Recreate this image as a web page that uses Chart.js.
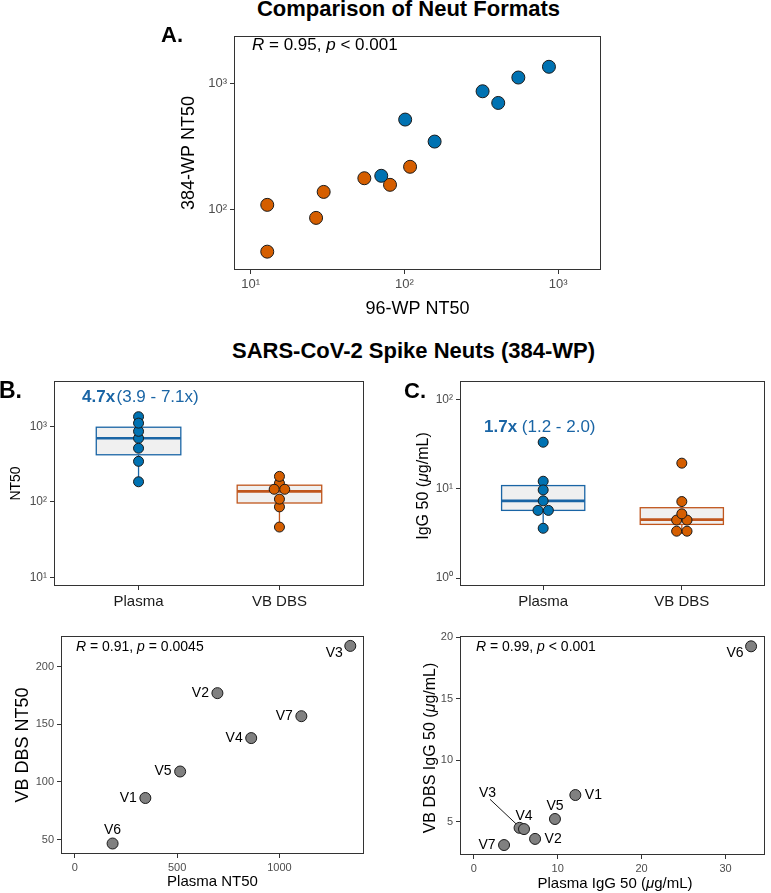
<!DOCTYPE html>
<html><head><meta charset="utf-8">
<script src="https://cdn.jsdelivr.net/npm/chart.js@4/dist/chart.umd.min.js"></script>
<style>
body{margin:0;width:771px;height:893px;background:#fff;position:relative;overflow:hidden;font-family:"Liberation Sans",Arial,sans-serif;color:#000;}
canvas{position:absolute;}
.t{position:absolute;white-space:nowrap;line-height:1;}
.rot{position:absolute;white-space:nowrap;line-height:1;transform:translate(-50%,-50%) rotate(-90deg);}
.ctr{position:absolute;white-space:nowrap;line-height:1;transform:translate(-50%,-50%);}
</style></head><body>
<canvas id="cA" width="480" height="300" style="left:140px;top:25px"></canvas>
<canvas id="cB" width="375" height="240" style="left:0px;top:370px"></canvas>
<canvas id="cC" width="391" height="240" style="left:380px;top:370px"></canvas>
<canvas id="cD" width="375" height="268" style="left:0px;top:625px"></canvas>
<canvas id="cE" width="391" height="268" style="left:380px;top:625px"></canvas>

<div class="t" style="left:408.5px;top:-1.6px;transform:translateX(-50%);font-weight:bold;font-size:22px">Comparison of Neut Formats</div>
<div class="t" style="left:413.5px;top:340.4px;transform:translateX(-50%);font-weight:bold;font-size:22px">SARS-CoV-2 Spike Neuts (384-WP)</div>
<div class="t" style="left:161px;top:23.7px;font-weight:bold;font-size:22px">A.</div>
<div class="t" style="left:-1px;top:378.8px;font-weight:bold;font-size:23px">B.</div>
<div class="t" style="left:404px;top:380px;font-weight:bold;font-size:22px">C.</div>

<div class="t" style="left:252px;top:35.6px;font-size:17px"><i>R</i> = 0.95, <i>p</i> &lt; 0.001</div>
<div class="t" style="left:82px;top:387.6px;font-size:17px;color:#1a65a5"><b>4.7x</b>&#8202;(3.9 - 7.1x)</div>
<div class="t" style="left:484px;top:417.6px;font-size:17px;color:#1a65a5"><b>1.7x</b> (1.2 - 2.0)</div>
<div class="t" style="left:76px;top:639px;font-size:14px"><i>R</i> = 0.91, <i>p</i> = 0.0045</div>
<div class="t" style="left:476px;top:639px;font-size:14px"><i>R</i> = 0.99, <i>p</i> &lt; 0.001</div>

<div class="rot" style="left:423px;top:486px;font-size:16px">IgG 50 (<i>μ</i>g/mL)</div>
<div class="rot" style="left:429.5px;top:748px;font-size:16px">VB DBS IgG 50 (<i>μ</i>g/mL)</div>
<div class="ctr" style="left:615px;top:882px;font-size:15px">Plasma IgG 50 (<i>μ</i>g/mL)</div>

<script>
// ---------------- data ----------------
const samples = ['V1','V2','V3','V4','V5','V6','V7'];
const groups = ['Plasma','VB DBS'];
const plasmaNT50_96  = [157, 407, 870, 322, 101, 70.6, 550];
const plasmaNT50_384 = [345, 697, 1346, 862, 515, 185, 1107];
const dbsNT50_96     = [26.6, 54.8, 108.7, 29.8, 12.8, 12.8, 80.5];
const dbsNT50_384    = [86, 177, 218, 138, 109, 46.5, 157];
const plasmaIgG50    = [12.1, 7.3, 5.45, 5.98, 9.67, 33.05, 3.6];
const dbsIgG50       = [7.17, 3.6, 4.5, 4.4, 5.22, 19.27, 3.1];
const logTicksA = [10, 100, 1000];
const logTicksB = [10, 100, 1000];
const logTicksC = [1, 10, 100];
const ticksDx = [0, 500, 1000];
const ticksDy = [50, 100, 150, 200];
const ticksEx = [0, 10, 20, 30];
const ticksEy = [5, 10, 15, 20];
const labelDirD = ['left','left','belowLeft','left','left','above','left'];
const labelDirE = ['right','right','leader','above','above','belowLeft','left'];

// ---------------- style ----------------
const BLUE = '#0072B2', ORANGE = '#D55E00', GRAY = '#808080', EDGE = '#1a1a1a';
const BLUE_BOX = '#1a65a5', ORANGE_BOX = '#c0561d';
const TICK_COL = '#4d4d4d';
Chart.defaults.font.family = '"Liberation Sans", Arial, sans-serif';
Chart.defaults.color = TICK_COL;

const sup = {0:'\u2070',1:'\u00B9',2:'\u00B2',3:'\u00B3'};
const powLabel = v => '10' + sup[Math.round(Math.log10(v))];
const plainLabel = v => String(v);

// ---------------- helpers ----------------
function logQuantile(vals, p){
  const l = vals.map(Math.log10).sort((a,b)=>a-b);
  const h = (l.length-1)*p, lo = Math.floor(h);
  const nx = l[Math.min(lo+1, l.length-1)];
  return Math.pow(10, l[lo] + (h-lo)*(nx - l[lo]));
}
function boxStats(vals, x, color){
  const q1 = logQuantile(vals,.25), med = logQuantile(vals,.5), q3 = logQuantile(vals,.75);
  const iqr = Math.log10(q3) - Math.log10(q1);
  const lf = Math.log10(q1) - 1.5*iqr, uf = Math.log10(q3) + 1.5*iqr;
  const inside = vals.filter(v => Math.log10(v) >= lf && Math.log10(v) <= uf);
  return {x, q1, med, q3, lo: Math.min(...inside), hi: Math.max(...inside), color};
}
// dot-density binning (like geom_dotplot, binaxis y, stackdir center) on log scale
function dotplot(vals, cx, binwidth, step){
  const idx = vals.map((v,i)=>i).sort((a,b)=>vals[a]-vals[b]);
  const out = new Array(vals.length);
  let i = 0;
  while (i < idx.length){
    const start = Math.log10(vals[idx[i]]);
    const bin = [idx[i]]; let j = i+1;
    while (j < idx.length && Math.log10(vals[idx[j]]) - start < binwidth){ bin.push(idx[j]); j++; }
    const center = (start + Math.log10(vals[bin[bin.length-1]]))/2;
    bin.forEach((k,n)=>{ out[k] = {x: cx + (n - (bin.length-1)/2)*step, y: Math.pow(10, center)}; });
    i = j;
  }
  return out;
}
const fixedTicks = vals => (s => { s.ticks = vals.map(v=>({value:v})); });
const fitW = w => (s => { s.width = w; });
const fitH = h => (s => { s.height = h; });
const tickGrid = {display:true, drawOnChartArea:false, drawTicks:true, tickLength:4, color:'#333', lineWidth:1};

const framePlugin = {
  id:'frame',
  afterDatasetsDraw(chart){
    const {ctx, chartArea:a} = chart;
    ctx.save(); ctx.strokeStyle = '#333'; ctx.lineWidth = 1;
    ctx.strokeRect(Math.round(a.left)+0.5, Math.round(a.top)+0.5, Math.round(a.right-a.left)-1, Math.round(a.bottom-a.top)-1);
    ctx.restore();
  }
};
const boxPlugin = {
  id:'boxes',
  beforeDatasetsDraw(chart, args, opts){
    if (!opts || !opts.items) return;
    const {ctx} = chart, xs = chart.scales.x, ys = chart.scales.y;
    ctx.save();
    for (const b of opts.items){
      const xc = xs.getPixelForValue(b.x), xl = xs.getPixelForValue(b.x-0.3), xr = xs.getPixelForValue(b.x+0.3);
      const y1 = ys.getPixelForValue(b.q1), y3 = ys.getPixelForValue(b.q3), ym = ys.getPixelForValue(b.med);
      ctx.strokeStyle = b.color; ctx.lineWidth = 1.3;
      ctx.beginPath();
      ctx.moveTo(xc, y3); ctx.lineTo(xc, ys.getPixelForValue(b.hi));
      ctx.moveTo(xc, y1); ctx.lineTo(xc, ys.getPixelForValue(b.lo));
      ctx.stroke();
      ctx.fillStyle = '#F0F0F0';
      ctx.fillRect(xl, y3, xr-xl, y1-y3);
      ctx.strokeRect(xl, y3, xr-xl, y1-y3);
      ctx.lineWidth = 2.6;
      ctx.beginPath(); ctx.moveTo(xl, ym); ctx.lineTo(xr, ym); ctx.stroke();
    }
    ctx.restore();
  }
};
const LABEL_STYLE = {
  left:      {dx:-8.5, dy:0,   align:'right'},
  right:     {dx:9.5,  dy:0,   align:'left'},
  above:     {dx:0,    dy:-13, align:'center'},
  belowLeft: {dx:-7.5, dy:7,   align:'right'},
  leader:    {dx:-32,  dy:-35, align:'center', seg:[[-29.5,-28.5],[-3.5,-4]]}
};
const labelPlugin = {
  id:'ptlabels',
  afterDatasetsDraw(chart, args, opts){
    if (!opts || !opts.texts) return;
    const {ctx} = chart, meta = chart.getDatasetMeta(0);
    ctx.save();
    ctx.font = '14px "Liberation Sans", Arial, sans-serif';
    ctx.fillStyle = '#000'; ctx.strokeStyle = '#000'; ctx.lineWidth = 0.9;
    ctx.textBaseline = 'middle';
    meta.data.forEach((el, i) => {
      const st = LABEL_STYLE[opts.dirs[i]];
      if (st.seg){
        ctx.beginPath();
        ctx.moveTo(el.x + st.seg[0][0], el.y + st.seg[0][1]);
        ctx.lineTo(el.x + st.seg[1][0], el.y + st.seg[1][1]);
        ctx.stroke();
      }
      ctx.textAlign = st.align;
      ctx.fillText(opts.texts[i], el.x + st.dx, el.y + st.dy);
    });
    ctx.restore();
  }
};
const basePlugins = {legend:{display:false}, tooltip:{enabled:false}};
const baseOpts = {responsive:false, animation:false, devicePixelRatio:1, events:[]};

// ---------------- Panel A ----------------
new Chart(document.getElementById('cA'), {
  type:'scatter',
  data:{datasets:[
    {data: plasmaNT50_96.map((x,i)=>({x, y: plasmaNT50_384[i]})), backgroundColor:BLUE, borderColor:EDGE, borderWidth:1, pointRadius:6.5},
    {data: dbsNT50_96.map((x,i)=>({x, y: dbsNT50_384[i]})), backgroundColor:ORANGE, borderColor:EDGE, borderWidth:1, pointRadius:6.5}
  ]},
  options:{...baseOpts,
    layout:{padding:{top:7, right:19, left:0, bottom:0}},
    plugins:{...basePlugins},
    scales:{
      x:{type:'logarithmic', min:7.78, max:1897, afterBuildTicks:fixedTicks(logTicksA), afterFit:fitH(55),
         grid:tickGrid, border:{display:false},
         ticks:{font:{size:13}, color:TICK_COL, padding:3, maxRotation:0, autoSkip:false, callback:powLabel},
         title:{display:true, text:'96-WP NT50', color:'#000', font:{size:18}, padding:{top:0,bottom:5}}},
      y:{type:'logarithmic', min:33.3, max:2366, afterBuildTicks:fixedTicks([100,1000]), afterFit:fitW(94),
         grid:tickGrid, border:{display:false},
         ticks:{font:{size:13}, color:TICK_COL, padding:3, autoSkip:false, callback:powLabel},
         title:{display:true, text:'384-WP NT50', color:'#000', font:{size:18}, padding:{top:38,bottom:0}}}
    }},
  plugins:[framePlugin]
});

// ---------------- Panels B & C ----------------
function groupChart(id, plasma, dbs, yMin, yMax, yTicks, yWidth, padRight, yTitle){
  const bw = 0.07, step = 0.075;
  const yTitleOpt = yTitle ? {display:true, text:yTitle, color:'#000', font:{size:14}, padding:{top:8,bottom:0}} : {display:false};
  return new Chart(document.getElementById(id), {
    type:'scatter',
    data:{datasets:[
      {data: dotplot(plasma, 1, bw, step), backgroundColor:BLUE, borderColor:EDGE, borderWidth:1, pointRadius:5},
      {data: dotplot(dbs, 2, bw, step), backgroundColor:ORANGE, borderColor:EDGE, borderWidth:1, pointRadius:5}
    ]},
    options:{...baseOpts,
      layout:{padding:{top:11, right:padRight, left:0, bottom:0}},
      plugins:{...basePlugins, boxes:{items:[boxStats(plasma,1,BLUE_BOX), boxStats(dbs,2,ORANGE_BOX)]}},
      scales:{
        x:{type:'linear', min:0.4, max:2.6, afterBuildTicks:fixedTicks([1,2]), afterFit:fitH(24),
           grid:tickGrid, border:{display:false},
           ticks:{font:{size:15}, color:'#1a1a1a', padding:3, maxRotation:0, autoSkip:false, callback:v=>groups[Math.round(v)-1]}},
        y:{type:'logarithmic', min:yMin, max:yMax, afterBuildTicks:fixedTicks(yTicks), afterFit:fitW(yWidth),
           grid:tickGrid, border:{display:false},
           ticks:{font:{size:12}, color:TICK_COL, padding:3, autoSkip:false, callback:powLabel},
           title:yTitleOpt}
      }},
    plugins:[boxPlugin, framePlugin]
  });
}
groupChart('cB', plasmaNT50_384, dbsNT50_384, 7.7, 4000, logTicksB, 54, 11, 'NT50');
groupChart('cC', plasmaIgG50, dbsIgG50, 0.814, 160, logTicksC, 80, 1, null);

// ---------------- Panels D & E ----------------
function corrChart(id, xs, ys, xr, yr, xt, yt, yWidth, xH, padRight, dirs, xTitle, yTitle){
  return new Chart(document.getElementById(id), {
    type:'scatter',
    data:{datasets:[{data: xs.map((x,i)=>({x, y: ys[i]})), backgroundColor:GRAY, borderColor:EDGE, borderWidth:1, pointRadius:5.5}]},
    options:{...baseOpts,
      layout:{padding:{top:11, right:padRight, left:0, bottom:0}},
      plugins:{...basePlugins, ptlabels:{texts:samples, dirs}},
      scales:{
        x:{type:'linear', min:xr[0], max:xr[1], afterBuildTicks:fixedTicks(xt), afterFit:fitH(xH),
           grid:tickGrid, border:{display:false},
           ticks:{font:{size:11}, color:TICK_COL, padding:3, maxRotation:0, autoSkip:false, callback:plainLabel},
           title: xTitle ? {display:true, text:xTitle, color:'#000', font:{size:15}, padding:{top:0,bottom:2}} : {display:false}},
        y:{type:'linear', min:yr[0], max:yr[1], afterBuildTicks:fixedTicks(yt), afterFit:fitW(yWidth),
           grid:tickGrid, border:{display:false},
           ticks:{font:{size:11}, color:TICK_COL, padding:3, autoSkip:false, callback:plainLabel},
           title: yTitle ? {display:true, text:yTitle, color:'#000', font:{size:18}, padding:{top:12,bottom:0}} : {display:false}}
      }},
    plugins:[framePlugin, labelPlugin]
  });
}
corrChart('cD', plasmaNT50_384, dbsNT50_384, [-67,1413], [37.4,226.6], ticksDx, ticksDy, 61, 39, 11, labelDirD, 'Plasma NT50', 'VB DBS NT50');
corrChart('cE', plasmaIgG50, dbsIgG50, [-1.65,34.65], [2.29,20.11], ticksEx, ticksEy, 80, 38, 1, labelDirE, null, null);
</script>
</body></html>
